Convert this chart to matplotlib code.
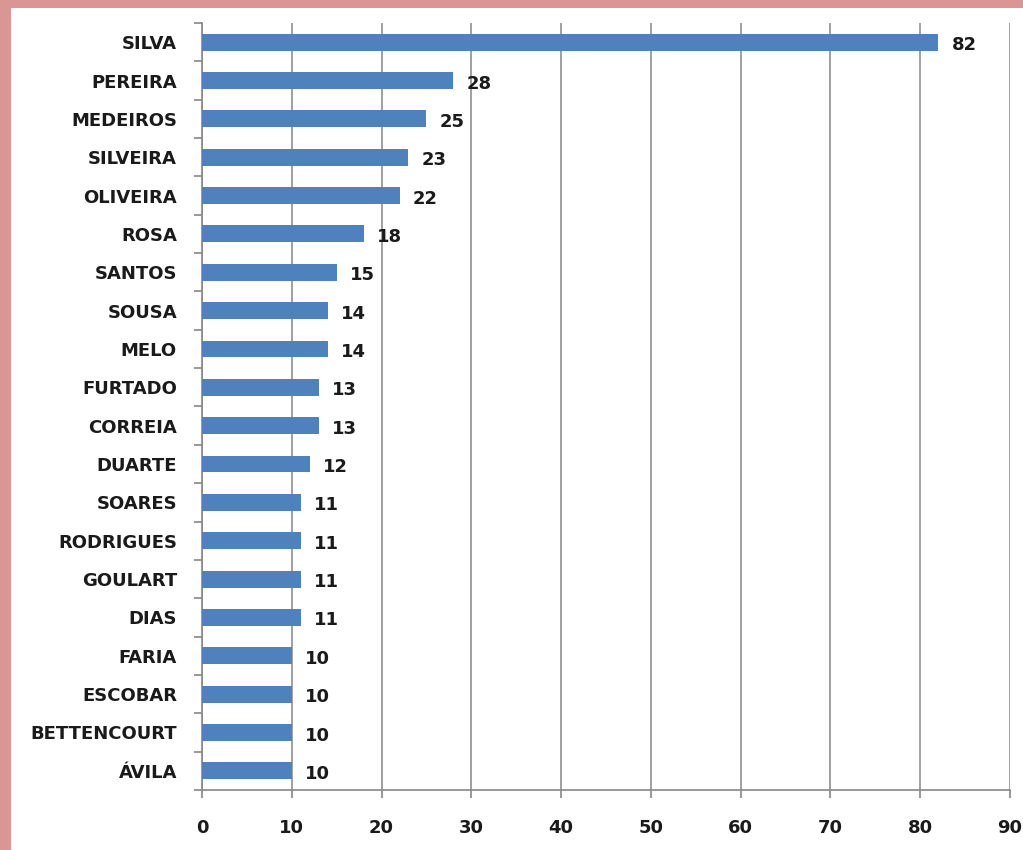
import matplotlib.pyplot as plt
from matplotlib.patches import Rectangle

names = ["SILVA", "PEREIRA", "MEDEIROS", "SILVEIRA", "OLIVEIRA", "ROSA", "SANTOS",
         "SOUSA", "MELO", "FURTADO", "CORREIA", "DUARTE", "SOARES", "RODRIGUES",
         "GOULART", "DIAS", "FARIA", "ESCOBAR", "BETTENCOURT", "ÁVILA"]
counts = [82, 28, 25, 23, 22, 18, 15, 14, 14, 13, 13, 12, 11, 11, 11, 11, 10, 10, 10, 10]
xticks = [0, 10, 20, 30, 40, 50, 60, 70, 80, 90]

W, H = 1023, 850
fig = plt.figure(figsize=(W / 100, H / 100), dpi=100)
fig.patch.set_facecolor("#d99694")
# white panel inside the pink frame
fig.patches.append(Rectangle((11 / W, 0), 1 - 11 / W, 1 - 8 / H,
                             transform=fig.transFigure, facecolor="white",
                             edgecolor="none", zorder=-10))

ax = fig.add_axes([202 / W, 1 - 790 / H, (1010 - 202) / W, (790 - 23) / H])
ax.set_zorder(5)
ax.set_facecolor("white")

ypos = list(range(len(names)))
ax.barh(ypos, counts, height=0.44, color="#4f81bd", zorder=3)
for y, v in zip(ypos, counts):
    ax.text(v + 1.5, y + 0.08, str(v), va="center", ha="left",
            fontsize=13, fontweight="bold", color="#1a1a1a")

ax.set_xlim(0, 90)
ax.set_ylim(len(names) - 0.5, -0.5)
ax.set_xticks(xticks)
ax.set_yticks(ypos)
ax.set_yticklabels(names)
ax.set_yticks([i - 0.5 for i in range(len(names) + 1)], minor=True)
ax.tick_params(axis="y", which="major", length=0, pad=18)
ax.tick_params(axis="y", which="minor", length=6, width=1.2, color="#888888")
ax.tick_params(axis="x", length=6, width=1.2, color="#888888", pad=15)
for lab in ax.get_yticklabels() + ax.get_xticklabels():
    lab.set_fontsize(13)
    lab.set_fontweight("bold")
    lab.set_color("#1a1a1a")

ax.grid(axis="x", color="#999999", linewidth=1.3, zorder=0)
ax.set_axisbelow(True)
ax.spines["top"].set_visible(False)
ax.spines["right"].set_visible(False)
ax.spines["left"].set_color("#888888")
ax.spines["bottom"].set_color("#888888")
ax.spines["left"].set_linewidth(1.2)
ax.spines["bottom"].set_linewidth(1.2)

plt.savefig("out.png", dpi=100, facecolor=fig.get_facecolor())
